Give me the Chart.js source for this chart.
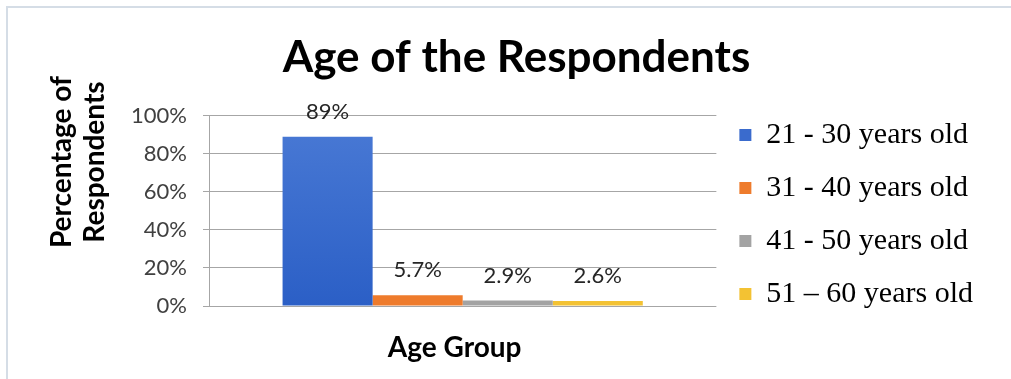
<!DOCTYPE html>
<html>
<head>
<meta charset="utf-8">
<script src="https://cdn.jsdelivr.net/npm/chart.js@4"></script>
<style>
  html, body { margin: 0; padding: 0; background: #fff; }
  #wrap { position: absolute; left: 0; top: 0; width: 1011px; height: 379px; }
  #frame { position: absolute; left: 6px; top: 6px; right: 0; bottom: 0; border-top: 2px solid #d5dde6; border-left: 2px solid #d5dde6; }
  canvas { position: absolute; left: 0; top: 0; }
</style>
</head>
<body>
<div id="wrap">
  <div id="frame"></div>
  <canvas id="ageChart" width="1011" height="379"></canvas>
</div>
<script>
// Dati del grafico
const ageGroups = ['21 - 30 years old', '31 - 40 years old', '41 - 50 years old', '51 \u2013 60 years old'];
const percentages = [89, 5.7, 2.9, 2.6];
const valueLabels = ['89%', '5.7%', '2.9%', '2.6%'];
const barColors = ['#3a6bcd', '#ee7b2c', '#a3a3a3', '#f3c233'];
const yTicks = [0, 20, 40, 60, 80, 100];

// Gradiente per la barra blu
function blueFill(context) {
    const area = context.chart.chartArea;
    if (!area) return barColors[0];
    const g = context.chart.ctx.createLinearGradient(0, area.top, 0, area.bottom);
    g.addColorStop(0, '#4a7ad5');
    g.addColorStop(1, '#2b5fc6');
    return g;
}

// Sposta la legenda più in basso
const legendShift = {
    id: 'legendShift',
    afterLayout(chart) {
        chart.legend.top += 25;
        chart.legend.bottom += 25;
    }
};

// Etichette sopra le barre e titoli degli assi
const extraText = {
    id: 'extraText',
    afterDatasetsDraw(chart) {
        const c = chart.ctx;
        const area = chart.chartArea;
        c.save();
        c.font = '22px Lato';
        c.fillStyle = '#262626';
        c.textAlign = 'center';
        c.textBaseline = 'middle';
        chart.data.datasets.forEach((ds, i) => {
            const bar = chart.getDatasetMeta(i).data[0];
            c.fillText(valueLabels[i], bar.x, bar.y - 25);
        });

        // Titolo asse X
        c.font = 'bold 28px Lato';
        c.fillStyle = '#000';
        c.fillText('Age Group', (area.left + area.right) / 2 - 8, 348);

        // Titolo asse Y (ruotato)
        c.translate(78, 162);
        c.rotate(-Math.PI / 2);
        c.font = 'bold 28px Lato';
        c.fillText('Percentage of', 0, -16);
        c.fillText('Respondents', 0, 17);
        c.restore();
    }
};

const ctx = document.getElementById('ageChart').getContext('2d');
const myChart = new Chart(ctx, {
    type: 'bar',
    data: {
        labels: [''],
        datasets: ageGroups.map((name, i) => ({
            label: name,
            data: [percentages[i]],
            backgroundColor: i === 0 ? blueFill : barColors[i],
            borderWidth: 0,
        })),
    },
    options: {
        responsive: false,
        animation: false,
        layout: { padding: { left: 50, right: 28, top: 0, bottom: 0 } },
        datasets: { bar: { categoryPercentage: 0.71, barPercentage: 1 } },
        plugins: {
            title: {
                display: true,
                text: 'Age of the Respondents',
                font: { family: 'Lato', size: 44, weight: 'bold', lineHeight: 1.2 },
                color: '#000',
                padding: { top: 31, bottom: 32 },
            },
            legend: {
                position: 'right',
                maxWidth: 320,
                labels: {
                    font: { family: 'Liberation Serif', size: 30 },
                    color: '#111',
                    boxWidth: 12,
                    boxHeight: 12,
                    padding: 23,
                    generateLabels: chart => ageGroups.map((name, i) => ({
                        text: name,
                        fillStyle: barColors[i],
                        strokeStyle: barColors[i],
                        lineWidth: 0,
                        datasetIndex: i,
                    })),
                },
            },
            tooltip: { enabled: false },
        },
        scales: {
            x: {
                grid: { display: false },
                border: { display: false },
                ticks: { display: false },
                afterFit: axis => { axis.height = 73; },
            },
            y: {
                min: 0,
                max: 100,
                afterBuildTicks: axis => { axis.ticks = yTicks.map(v => ({ value: v })); },
                ticks: {
                    callback: v => v + '%',
                    font: { family: 'Lato', size: 22 },
                    color: '#404040',
                    padding: 16,
                },
                grid: { color: '#a6a6a6', tickLength: 6 },
                border: { display: true, color: '#a6a6a6' },
                afterFit: axis => { axis.width = 159; },
            },
        },
    },
    plugins: [legendShift, extraText],
});
</script>
</body>
</html>
